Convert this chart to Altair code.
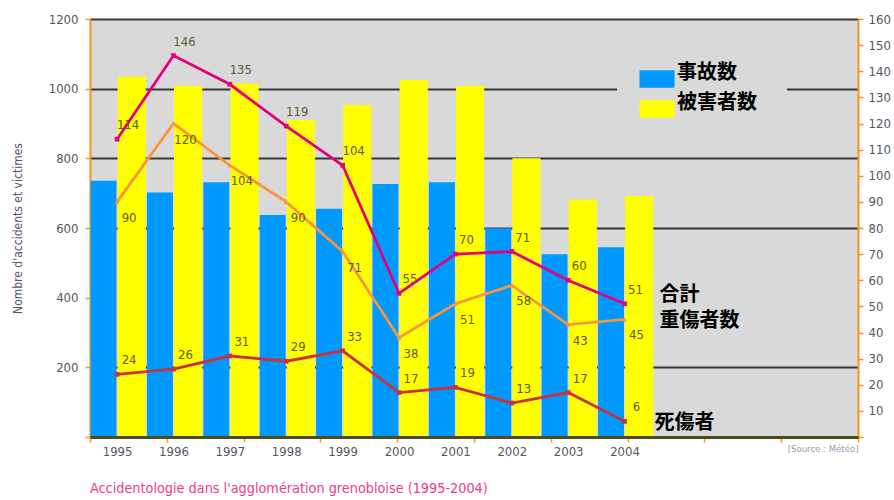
import altair as alt
import pandas as pd

# ---------------- data ----------------
years = [1995, 1996, 1997, 1998, 1999, 2000, 2001, 2002, 2003, 2004]
accidents = [736, 702, 731, 637, 655, 726, 731, 599, 525, 545]        # 事故数
victims = [1034, 1008, 1015, 910, 953, 1025, 1008, 800, 682, 692]     # 被害者数
total_casualties = [114, 146, 135, 119, 104, 55, 70, 71, 60, 51]      # 合計
serious_injuries = [90, 120, 104, 90, 71, 38, 51, 58, 43, 45]         # 重傷者数
deaths = [24, 26, 31, 29, 33, 17, 19, 13, 17, 6]                      # 死傷者

bar_series = ["事故数", "被害者数"]
line_series = ["合計", "重傷者数", "死傷者"]
left_ticks = [0, 200, 400, 600, 800, 1000, 1200]
right_ticks = [0, 10, 20, 30, 40, 50, 60, 70, 80, 90, 100, 110, 120, 130, 140, 150, 160]
bottom_tick_steps = [0, 1, 2, 3, 4, 5, 6, 7, 8, 9, 10]

# ---------------- styles ----------------
bar_colors = ["#0099ff", "#ffff00"]
line_colors = ["#e5007e", "#f7963c", "#c8323c"]
line_shapes = ["square", "triangle-up", "square"]
label_offsets = [(11, -14), (12, 16), (12, -14)]
name_offsets = [(35, -9), (35, 2), (30, 2)]
ORANGE = "#f7941d"
FONT = "DejaVu Sans Condensed, DejaVu Sans, sans-serif"
CJK = "Noto Sans CJK JP"
TXT = "#55555f"

bars_df = pd.DataFrame({
    "year": years * 2,
    "series": [bar_series[0]] * len(years) + [bar_series[1]] * len(years),
    "value": accidents + victims,
})
line_values = [total_casualties, serious_injuries, deaths]

xscale = alt.Scale(domain=[1994.52, 2008.14], nice=False, zero=False)

bars = alt.Chart(bars_df).transform_calculate(
    x0="datum.series == '事故数' ? datum.year - 0.47 : datum.year + 0.01",
    x1="datum.series == '事故数' ? datum.year - 0.01 : datum.year + 0.51",
).mark_bar().encode(
    x=alt.X("x0:Q", scale=xscale, axis=alt.Axis(
        orient="bottom", values=years, format="d", ticks=False, grid=False,
        domainColor="#4b4b20", domainWidth=3, labelColor=TXT, labelFont=FONT,
        labelFontSize=13, labelPadding=8, title=None, zindex=1)),
    x2="x1:Q",
    y=alt.Y("value:Q", scale=alt.Scale(domain=[0, 1200], nice=False), axis=alt.Axis(
        orient="left", values=left_ticks, format="d",
        labelExpr="datum.value == 0 ? '' : datum.label",
        grid=True, gridColor="#383838", gridWidth=2,
        gridOpacity={"condition": {"test": "datum.value == 400 || datum.value == 0", "value": 0}, "value": 1},
        domainColor=ORANGE, domainWidth=2, tickColor=ORANGE, tickSize=5, tickWidth=1.5,
        labelColor=TXT, labelFont=FONT, labelFontSize=13, labelPadding=7,
        title="Nombre d'accidents et victimes", titleFont=FONT, titleFontSize=12,
        titleFontWeight="normal", titleColor=TXT, titlePadding=24)),
    y2=alt.datum(0),
    color=alt.Color("series:N", scale=alt.Scale(domain=bar_series, range=bar_colors),
                    legend=alt.Legend(
                        orient="none", legendX=527, legendY=20, title=None,
                        fillColor="#d9d9d9", padding=30,
                        symbolType="M-2,-1H2V1H-2Z", symbolSize=306,
                        symbolStrokeWidth=0, labelFont=CJK, labelFontSize=20,
                        labelFontWeight="bold", labelColor="black", labelOffset=10,
                        labelBaseline="alphabetic", rowPadding=5)),
)

layers = [bars]
for i, name in enumerate(line_series):
    df = pd.DataFrame({"year": years, "value": line_values[i], "series": [name] * len(years)})
    yaxis = None
    if i == 0:
        yaxis = alt.Axis(orient="right", values=right_ticks, format="d",
                         labelExpr="datum.value == 0 ? '' : datum.label",
                         grid=False, domainColor=ORANGE, domainWidth=2,
                         tickColor=ORANGE, tickSize=5, tickWidth=1.5,
                         labelColor=TXT, labelFont=FONT, labelFontSize=13,
                         labelPadding=5, title=None)
    enc = dict(
        x=alt.X("year:Q", scale=xscale, axis=None),
        y=alt.Y("value:Q", scale=alt.Scale(domain=[0, 160], nice=False), axis=yaxis),
    )
    enc_noaxis = dict(
        x=alt.X("year:Q", scale=xscale, axis=None),
        y=alt.Y("value:Q", scale=alt.Scale(domain=[0, 160], nice=False), axis=None),
    )
    base = alt.Chart(df)
    layers.append(base.mark_line(color=line_colors[i], strokeWidth=2.8).encode(**enc))
    layers.append(base.mark_point(color=line_colors[i], filled=True, opacity=1,
                                  shape=line_shapes[i], size=22).encode(**enc_noaxis))
    dx, dy = label_offsets[i]
    layers.append(base.mark_text(dx=dx, dy=dy, align="center", baseline="middle",
                                 font=FONT, fontSize=13, color="#5b5a33").encode(
        text=alt.Text("value:Q", format="d"), **enc_noaxis))
    ndx, ndy = name_offsets[i]
    layers.append(base.transform_filter(f"datum.year == {years[-1]}").mark_text(
        dx=ndx, dy=ndy, align="left", baseline="middle", font=CJK, fontSize=20,
        fontWeight="bold", color="black").encode(text="series:N", **enc_noaxis))

ticks_layer = alt.Chart(pd.DataFrame({"t": bottom_tick_steps})).mark_point(opacity=0).encode(
    x=alt.X("t:Q", scale=alt.Scale(domain=[0, 10], nice=False), axis=alt.Axis(
        orient="bottom", values=bottom_tick_steps, labels=False, domain=False,
        ticks=True, tickColor=ORANGE, tickSize=5, tickWidth=1.5, grid=False,
        title="[Source : Météo]", titleAnchor="end", titleFont=FONT, titleFontSize=9.5,
        titleFontWeight="normal", titleColor="#9a9ab0", titlePadding=1)),
)
layers.append(ticks_layer)

chart = alt.layer(*layers).resolve_scale(
    x="independent", y="independent"
).properties(
    width=768, height=418,
    padding={"left": 90, "top": 19, "right": 36, "bottom": 63},
    autosize=alt.AutoSizeParams(type="none"),
    title=alt.TitleParams(
        text="Accidentologie dans l'agglomération grenobloise (1995-2004)",
        orient="bottom", anchor="start", font=FONT, fontSize=14.3,
        fontWeight="normal", color="#ee3a8c", offset=24, frame="group"),
).configure_view(fill="#d9d9d9", stroke=None)

chart.save("out.html", embed_options={"renderer": "svg", "actions": False})
